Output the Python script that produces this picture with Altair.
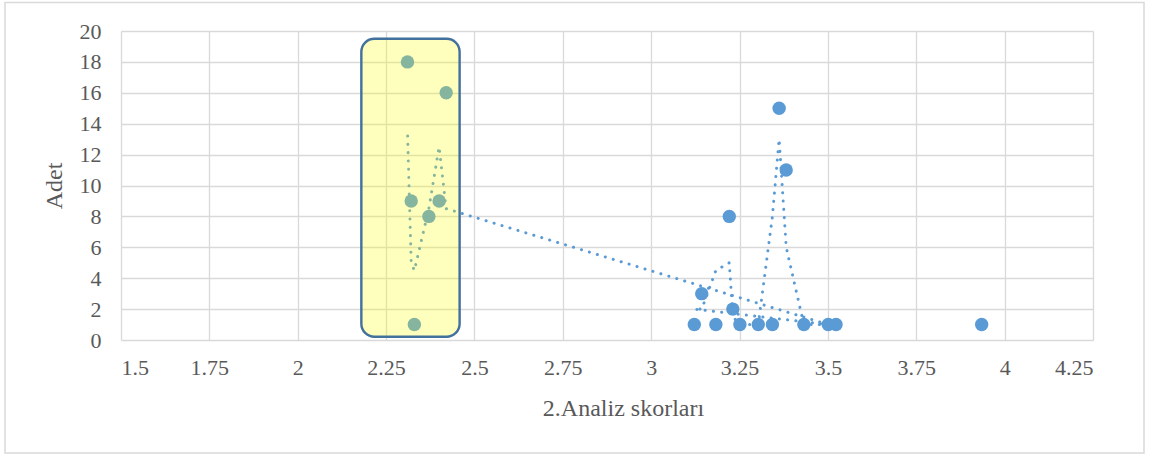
import altair as alt
import pandas as pd

# Analysis scores (x) and counts (y), in worksheet row order
skor = [3.935, 3.523, 3.432, 3.382, 3.362, 3.343, 3.303, 3.251, 3.231, 3.221,
        3.183, 3.143, 3.122, 3.501, 2.420, 2.400, 2.371, 2.330, 2.321, 2.3105]
adet = [1, 1, 1, 11, 15, 1, 1, 1, 2, 8,
        1, 3, 1, 1, 16, 9, 8, 1, 9, 18]

x_ticks = [1.5, 1.75, 2, 2.25, 2.5, 2.75, 3, 3.25, 3.5, 3.75, 4, 4.25]
y_ticks = [0, 2, 4, 6, 8, 10, 12, 14, 16, 18, 20]

# Highlighted score band
band_x = [2.18, 2.458]
band_y = [0.21, 19.5]

BLUE = "#5B9BD5"
GRID = "#D9D9D9"
TEXT = "#595959"
FONT = "Liberation Serif"

W, H = 972, 309
PAD_L, PAD_T = 121, 31

df = pd.DataFrame({"i": range(len(skor)), "skor": skor, "adet": adet})
band = pd.DataFrame({"x": [band_x[0]], "x2": [band_x[1]], "y": [band_y[0]], "y2": [band_y[1]]})

xs = alt.Scale(domain=[1.5, 4.25], nice=False, zero=False)
ys = alt.Scale(domain=[0, 20], nice=False)

x_axis = alt.Axis(values=x_ticks, labelExpr="'' + datum.value", labelOverlap=False,
                  title="2.Analiz skorları", titleX=502,
                  grid=True, gridColor=GRID, gridWidth=1.3, domain=False, ticks=False,
                  labelFont=FONT, labelFontSize=22, labelColor=TEXT, labelPadding=17,
                  titleFont=FONT, titleFontSize=24, titleFontWeight="normal",
                  titleColor=TEXT, titlePadding=18)
y_axis = alt.Axis(values=y_ticks, tickCount=11, labelExpr="'' + datum.value",
                  labelOverlap=False, title="Adet",
                  grid=True, gridColor=GRID, gridWidth=1.3, domain=False, ticks=False,
                  labelFont=FONT, labelFontSize=22, labelColor=TEXT, labelPadding=20,
                  titleFont=FONT, titleFontSize=24, titleFontWeight="normal",
                  titleColor=TEXT, titlePadding=13)

base = alt.Chart(df)

points = base.mark_circle(size=180, color=BLUE, opacity=1).encode(
    x=alt.X("skor:Q", scale=xs, axis=x_axis),
    y=alt.Y("adet:Q", scale=ys, axis=y_axis),
)

# Two-period moving average, following row order
trend = base.transform_window(
    ma="mean(adet)", n="count()", frame=[-1, 0], sort=[alt.SortField("i")]
).transform_filter("datum.n == 2").mark_line(
    color=BLUE, strokeWidth=3, strokeCap="round", strokeDash=[0.1, 8.2]
).encode(
    x=alt.X("skor:Q", scale=xs, axis=x_axis),
    y=alt.Y("ma:Q", scale=ys, axis=y_axis),
    order="i:Q",
)

highlight = alt.Chart(band).mark_rect(
    fill="#FFFF00", fillOpacity=0.26, stroke="#41719C", strokeWidth=2.4,
    strokeOpacity=1, cornerRadius=13
).encode(
    x=alt.X("x:Q", scale=xs, axis=x_axis), x2="x2",
    y=alt.Y("y:Q", scale=ys, axis=y_axis), y2="y2",
)

frame = alt.Chart(pd.DataFrame({"k": [0]})).mark_rect(
    fill=None, stroke=GRID, strokeWidth=1.5
).encode(
    x=alt.value(5 - PAD_L), x2=alt.value(1144 - PAD_L),
    y=alt.value(2.5 - PAD_T), y2=alt.value(453 - PAD_T),
)

chart = alt.layer(points, trend, highlight, frame).properties(
    width=W, height=H,
    autosize=alt.AutoSizeParams(type="none"),
    padding={"left": PAD_L, "top": PAD_T, "right": 1153 - PAD_L - W, "bottom": 454 - PAD_T - H},
    background="white",
).configure_view(stroke=None)

chart.save("out.html", embed_options={"renderer": "svg", "actions": False})
